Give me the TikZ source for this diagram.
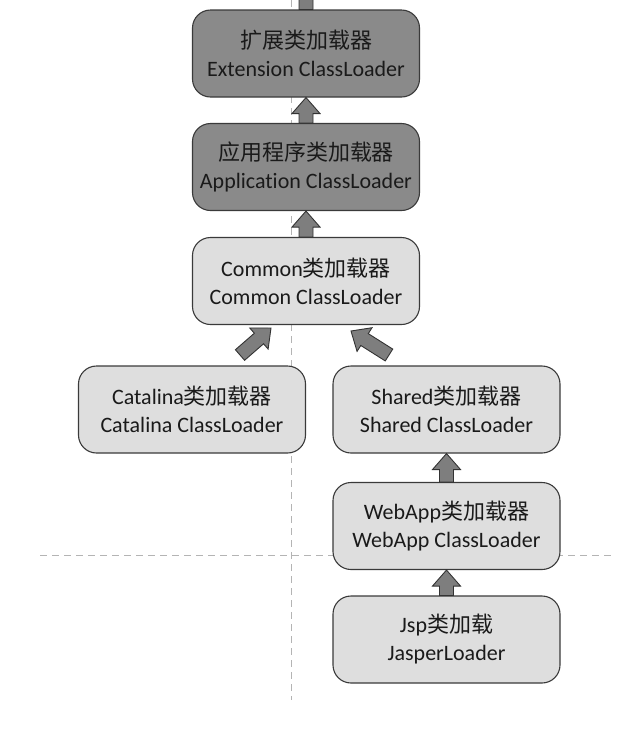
\documentclass[tikz,border=0pt]{standalone}
\usepackage{fontspec}
\setmainfont{Carlito}[Ligatures=NoCommon]
\newfontfamily\cjk[Scale=1.0]{Noto Sans CJK SC}
\usetikzlibrary{calc}
\definecolor{boxline}{HTML}{3A3A3A}
\definecolor{darkfill}{HTML}{8A8A8A}
\definecolor{lightfill}{HTML}{DEDEDE}
\definecolor{arrfill}{HTML}{7E7E7E}
\definecolor{arrline}{HTML}{333333}
\definecolor{guidecol}{HTML}{B4B4B4}
\definecolor{txt}{HTML}{1A1A1A}
\tikzset{
 box/.style={draw=boxline, line width=1.1pt, rounded corners=18pt, minimum width=227pt, minimum height=87pt, align=center, inner sep=0pt, font=\fontsize{22}{28}\selectfont, text=txt},
 darkbox/.style={box, fill=darkfill},
 lightbox/.style={box, fill=lightfill},
 fatarr/.style={fill=arrfill, draw=arrline, line width=0.9pt, line join=miter},
 guide/.style={draw=guidecol, dash pattern=on 7pt off 5pt, line width=0.9pt}
}
\newcommand\fatarrow[2]{%
 \coordinate (fab) at ($(#2)!16pt!(#1)$);
 \draw[fatarr] ($(#1)!7pt!90:(#2)$) -- ($(fab)!7pt!90:(#2)$) -- ($(fab)!14pt!90:(#2)$) -- (#2)
   -- ($(fab)!14pt!-90:(#2)$) -- ($(fab)!7pt!-90:(#2)$) -- ($(#1)!7pt!-90:(#2)$) -- cycle;}
\begin{document}
\begin{tikzpicture}[x=1pt,y=-1pt]
\useasboundingbox (0,0) rectangle (638,732);
\clip (0,0) rectangle (638,732);
% guide lines
\coordinate (vtop) at (291.7,0);
\coordinate (vbot) at (291.7,700);
\coordinate (hl) at (40,555);
\coordinate (hr) at (615,555);
\draw[guide] (vtop) -- (vbot);
\draw[guide] (hl) -- (hr);
% boxes
\node[darkbox] (ext) at (306,53.5) {{\cjk 扩展类加载器}\\Extension ClassLoader};
\node[darkbox] (app) at (306,167) {{\cjk 应用程序类加载器}\\Application ClassLoader};
\node[lightbox] (common) at (306,281) {Common{\cjk 类加载器}\\Common ClassLoader};
\node[lightbox] (catalina) at (192,409.5) {Catalina{\cjk 类加载器}\\Catalina ClassLoader};
\node[lightbox] (shared) at (446.5,409.5) {Shared{\cjk 类加载器}\\Shared ClassLoader};
\node[lightbox] (webapp) at (446.5,526) {WebApp{\cjk 类加载器}\\WebApp ClassLoader};
\node[lightbox] (jsp) at (446.5,639.5) {Jsp{\cjk 类加载}\\JasperLoader};
% arrows
\coordinate (topend) at (306,-25);
\fatarrow{ext.north}{topend}
\fatarrow{app.north}{ext.south}
\fatarrow{common.north}{app.south}
\coordinate (catTail) at (240,355);
\coordinate (catTip) at (271,328);
\fatarrow{catTail}{catTip}
\coordinate (shTail) at (389,355);
\coordinate (shTip) at (351,331);
\fatarrow{shTail}{shTip}
\fatarrow{webapp.north}{shared.south}
\fatarrow{jsp.north}{webapp.south}
\end{tikzpicture}
\end{document}
